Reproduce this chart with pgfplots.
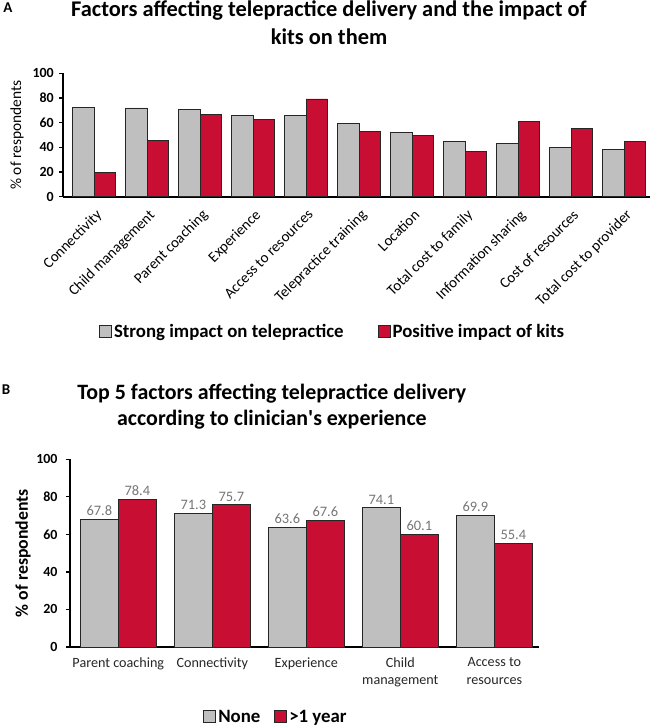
\documentclass[border=0pt]{standalone}
\usepackage{fontspec}
\setmainfont{Carlito}
\usepackage{pgfplots}
\pgfplotsset{compat=1.18}
\definecolor{bargray}{RGB}{191,191,191}
\definecolor{barred}{RGB}{200,14,50}
\definecolor{lblgray}{RGB}{118,118,118}
\begin{document}
\begin{tikzpicture}
\path[use as bounding box] (0bp,0bp) rectangle (651bp,-726bp);
\node[font=\bfseries\fontsize{15}{16}\selectfont] at (8bp,-8bp) {A};
\node[font=\bfseries\fontsize{15}{16}\selectfont] at (6bp,-390bp) {B};
\pgfplotsset{
  legimg/.style={legend image code/.code={\draw[##1,line width=0.9bp] (0bp,-6bp) rectangle (12bp,6bp);}},
}
% ---------------- Panel A ----------------
\begin{axis}[
  at={(63.3bp,-196.7bp)}, anchor=south west,
  scale only axis, width=586.7bp, height=123.4bp,
  xmin=-0.58, xmax=10.49, ymin=0, ymax=100,
  ybar=0pt, bar width=21.3bp,
  axis x line=bottom, axis y line=left,
  axis line style={-, line width=1.6bp, black},
  ytick={0,20,...,100},
  xtick={0,...,10},
  xticklabels={Connectivity,Child management,Parent coaching,Experience,Access to resources,Telepractice training,Location,Total cost to family,Information sharing,Cost of resources,Total cost to provider},
  major x tick style={draw=none},
  major y tick style={line width=1.2bp, black},
  tick align=outside, major tick length=4bp,
  /pgf/number format/assume math mode=true,
  yticklabel style={font=\bfseries\fontsize{14}{15}\selectfont, xshift=-2bp},
  xticklabel style={font=\fontsize{15}{16}\selectfont, xshift=1bp, yshift=-3bp, rotate=45, anchor=north east},
  ylabel={\% of respondents},
  ylabel style={font=\fontsize{15.5}{17}\selectfont, at={(axis description cs:-0.0789,0.5)}, anchor=center, rotate=0},
  title={Factors affecting telepractice delivery and the impact of\\kits on them},
  title style={font=\bfseries\fontsize{22.5}{28}\selectfont, align=center, at={(axis description cs:0.4529,1.359)}, anchor=center},
  legend style={at={(axis description cs:0.4590,-1.094)}, anchor=center, draw=none, fill=none,
    font=\bfseries\fontsize{18.9}{21}\selectfont, legend columns=2,
    /tikz/every even column/.append style={column sep=32bp}},
  clip=false,
]
\addplot[fill=bargray, draw=black!85, line width=0.9bp, legimg] coordinates {
(0,72.4) (1,71.9) (2,70.5) (3,65.7) (4,65.7) (5,59.5) (6,52.2) (7,45.1) (8,43.5) (9,40.0) (10,38.1)};
\addlegendentry{Strong impact on telepractice}
\addplot[fill=barred, draw=black!85, line width=0.9bp, legimg] coordinates {
(0,20.0) (1,45.9) (2,66.5) (3,62.7) (4,79.2) (5,53.2) (6,49.7) (7,37.0) (8,61.1) (9,55.2) (10,44.4)};
\addlegendentry{Positive impact of kits}
\end{axis}
% ---------------- Panel B ----------------
\begin{axis}[
  at={(70bp,-647bp)}, anchor=south west,
  scale only axis, width=468.5bp, height=187.7bp,
  xmin=-0.514, xmax=4.47, ymin=0, ymax=100,
  ybar=0pt, bar width=38bp,
  axis x line=bottom, axis y line=left,
  axis line style={-, line width=1.6bp, black},
  ytick={0,20,...,100},
  xtick={0,...,4},
  xticklabels={Parent coaching,Connectivity,Experience,Child\\management,Access to\\resources},
  major x tick style={draw=none},
  major y tick style={line width=1.2bp, black},
  tick align=outside, major tick length=4bp,
  /pgf/number format/assume math mode=true,
  yticklabel style={font=\bfseries\fontsize{14}{15}\selectfont, xshift=-5bp},
  xticklabel style={font=\fontsize{14.2}{17.5}\selectfont, align=center, text=black!85, yshift=-3bp},
  ylabel={\% of respondents},
  ylabel style={font=\bfseries\fontsize{17.8}{20}\selectfont, at={(axis description cs:-0.1000,0.5)}, anchor=center},
  title={Top 5 factors affecting telepractice delivery\\according to clinician\textquotesingle s experience},
  title style={font=\bfseries\fontsize{22}{26}\selectfont, align=center, at={(axis description cs:0.431,1.2467)}, anchor=center},
  nodes near coords={\pgfmathprintnumber[fixed,precision=1,fixed zerofill]{\pgfplotspointmeta}},
  nodes near coords style={font=\fontsize{14.5}{16}\selectfont, text=lblgray, yshift=0bp},
  legend style={at={(axis description cs:0.4397,-0.371)}, anchor=center, draw=none, fill=none,
    font=\bfseries\fontsize{18.9}{21}\selectfont, legend columns=2,
    /tikz/every even column/.append style={column sep=12bp}},
  clip=false,
]
\addplot[fill=bargray, draw=black!85, line width=0.9bp, legimg] coordinates {
(0,67.8) (1,71.3) (2,63.6) (3,74.1) (4,69.9)};
\addlegendentry{None}
\addplot[fill=barred, draw=black!85, line width=0.9bp, legimg] coordinates {
(0,78.4) (1,75.7) (2,67.6) (3,60.1) (4,55.4)};
\addlegendentry{>1 year}
\end{axis}
\end{tikzpicture}
\end{document}
